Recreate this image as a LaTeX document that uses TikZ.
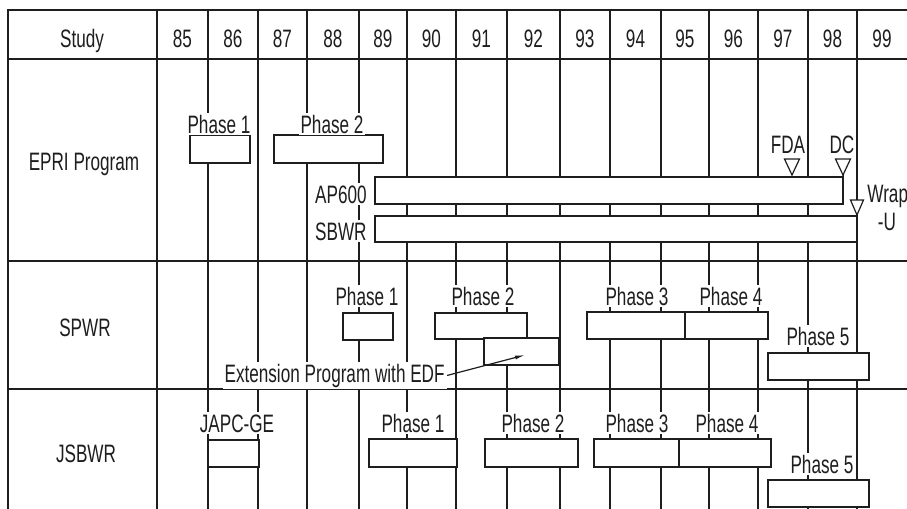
\documentclass[tikz,border=0pt]{standalone}
\usepackage{fontspec}
\setmainfont{Liberation Sans}[FakeStretch=0.68]
\usetikzlibrary{arrows.meta, fit}
\definecolor{ink}{RGB}{30,30,30}

\begin{document}
\begin{tikzpicture}[
    x=0.5pt, y=-0.5pt,
    font=\fontsize{12.6pt}{14pt}\selectfont, >={Latex[length=5pt,width=2pt]},
    rule/.style={draw=ink,line width=0.6pt},
    bar/.style={rectangle,draw=ink,line width=0.6pt,fill=white,inner sep=0pt},
    lbl/.style={fill=white,inner sep=1pt,anchor=base,text=ink},
    flag/.style={draw=ink,line width=0.6pt,fill=white}]

  \useasboundingbox (0,0) rectangle (907,509);

  % frame, rows and year columns
  \draw[rule] (8,509) -- (8,10) -- (907,10);
  \draw[rule] (8,59) -- (907,59);
  \draw[rule] (8,261) -- (907,261);
  \draw[rule] (8,389) -- (907,389);
  \draw[rule] (157,10) -- (157,509);
  \node[lbl] (study) at (82,47) {Study};
  \foreach \yr/\xl/\xr in {85/157/208, 86/208/258, 87/258/307, 88/307/359,
      89/359/407, 90/407/456, 91/456/507, 92/507/560, 93/560/610, 94/610/661,
      95/661/709, 96/709/758, 97/758/808, 98/808/857, 99/857/907} {
    \ifnum\yr<99 \draw[rule] (\xr,10) -- (\xr,509); \fi
    \node[lbl] (y\yr) at ({(\xl+\xr)/2},47) {\yr};
  }

  \node[lbl] (epri) at (84,170) {EPRI Program};
  \node[lbl] (spwr) at (85,336) {SPWR};
  \node[lbl] (jsbwr) at (86,462) {JSBWR};

  % EPRI Program
  \node[bar,fit={(190,135) (250,163)}] (ep1) {};
  \node[bar,fit={(274,135) (383,163)}] (ep2) {};
  \node[bar,fit={(375,177) (843,204)}] (ap) {};
  \node[bar,fit={(375,216) (857,242)}] (sb) {};
  \node[lbl] (ep1t) at (219,133) {Phase 1};
  \node[lbl] (ep2t) at (332,133) {Phase 2};
  \node[lbl,anchor=base east] (apt) at (369,203) {AP600};
  \node[lbl,anchor=base east] (sbt) at (369,240) {SBWR};
  \node[lbl] (fdat) at (788,153) {FDA};
  \node[lbl] (dct) at (842,153) {DC};
  \node[lbl,anchor=base west] (wrapt) at (865,202) {Wrap};
  \node[lbl] (wrapu) at (887,230) {-U};
  \coordinate (fda) at (792,175);
  \coordinate (dc) at (843,175);
  \coordinate (wrap) at (857,215);
  \draw[flag] (fda) -- ++(-7.5,-16) -- ++(15,0) -- cycle;
  \draw[flag] (dc) -- ++(-7.5,-16) -- ++(15,0) -- cycle;
  \draw[flag] (wrap) -- ++(-6.5,-15) -- ++(13,0) -- cycle;
  \draw[rule] (dc) -- (ap.north east);

  % SPWR
  \node[bar,fit={(343,313) (393,340)}] (sp1) {};
  \node[bar,fit={(435,313) (527,339)}] (sp2) {};
  \node[bar,fit={(484,338) (559,365)}] (ext) {};
  \node[bar,fit={(587,312) (685,339)}] (sp3) {};
  \node[bar,fit={(685,312) (768,339)}] (sp4) {};
  \node[bar,fit={(768,353) (869,380)}] (sp5) {};
  \node[lbl] (sp1t) at (367,305) {Phase 1};
  \node[lbl] (sp2t) at (483,305) {Phase 2};
  \node[lbl] (sp3t) at (637,305) {Phase 3};
  \node[lbl] (sp4t) at (731,305) {Phase 4};
  \node[lbl] (sp5t) at (818,345) {Phase 5};
  \node[lbl,anchor=base east] (extt) at (447,382) {Extension Program with EDF};
  \coordinate (extTip) at (525,355);
  \draw[->,rule] (extt.east) -- (extTip);

  % JSBWR
  \node[bar,fit={(208,440) (259,467)}] (js0) {};
  \node[bar,fit={(369,439) (457,467)}] (js1) {};
  \node[bar,fit={(485,439) (578,467)}] (js2) {};
  \node[bar,fit={(594,439) (679,467)}] (js3) {};
  \node[bar,fit={(679,439) (771,467)}] (js4) {};
  \node[bar,fit={(768,480) (869,507)}] (js5) {};
  \node[lbl] (js0t) at (237,432) {JAPC-GE};
  \node[lbl] (js1t) at (413,432) {Phase 1};
  \node[lbl] (js2t) at (533,432) {Phase 2};
  \node[lbl] (js3t) at (637,432) {Phase 3};
  \node[lbl] (js4t) at (727,432) {Phase 4};
  \node[lbl] (js5t) at (822,473) {Phase 5};
\end{tikzpicture}
\end{document}
